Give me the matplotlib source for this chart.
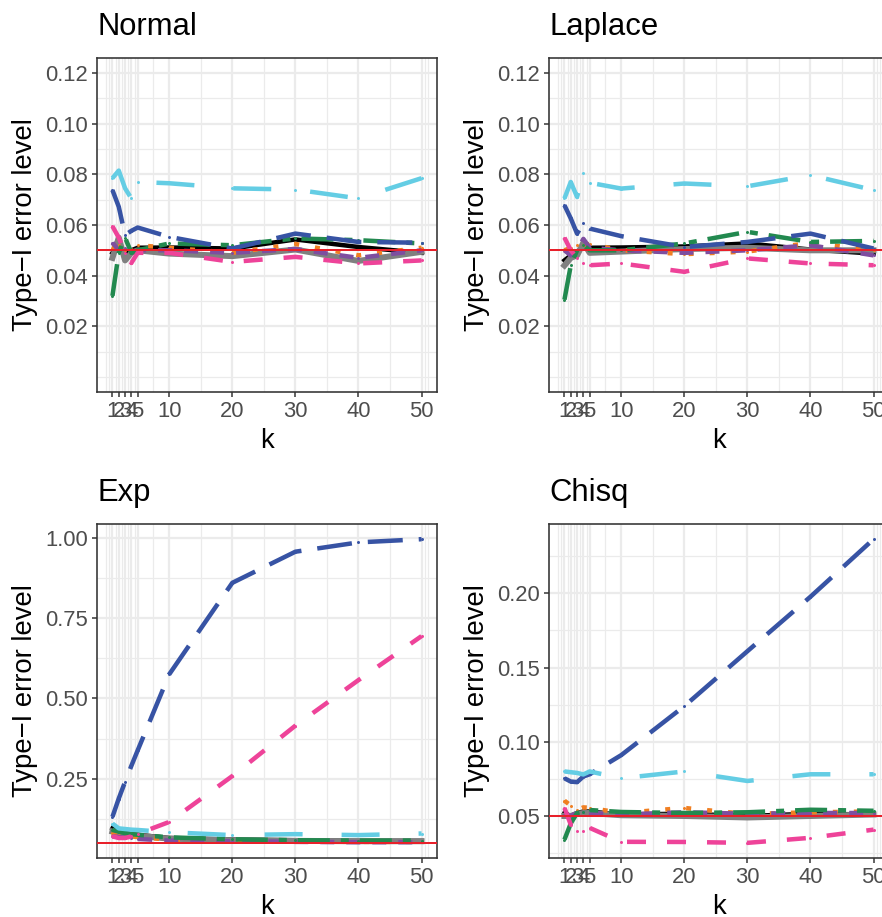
import numpy as np
import matplotlib
matplotlib.use("Agg")
import matplotlib.pyplot as plt

plt.rcParams['font.family'] = ['Liberation Sans', 'DejaVu Sans']
plt.rcParams['lines.scale_dashes'] = False

k = [1, 2, 3, 4, 5, 10, 20, 30, 40, 50]
k_breaks = [1, 2, 3, 4, 5, 10, 20, 30, 40, 50]

# type-I error levels, one dict per distribution
normal = {
    'black':     [0.049, 0.053, 0.048, 0.050, 0.051, 0.0511, 0.0507, 0.0543, 0.0513, 0.049],
    'gray':      [0.047, 0.055, 0.046, 0.049, 0.050, 0.0487, 0.0477, 0.0503, 0.0458, 0.0494],
    'orange':    [0.051, 0.052, 0.050, 0.049, 0.052, 0.051, 0.049, 0.0525, 0.048, 0.051],
    'purple':    [0.053, 0.050, 0.051, 0.049, 0.050, 0.050, 0.049, 0.0505, 0.047, 0.050],
    'green':     [0.032, 0.049, 0.055, 0.049, 0.050, 0.0527, 0.052, 0.0547, 0.054, 0.0527],
    'pink':      [0.0595, 0.055, 0.049, 0.045, 0.049, 0.049, 0.0454, 0.0474, 0.0448, 0.046],
    'darkblue':  [0.0738, 0.0672, 0.056, 0.0577, 0.059, 0.0553, 0.0507, 0.0566, 0.0533, 0.053],
    'lightblue': [0.0785, 0.0815, 0.0745, 0.0705, 0.077, 0.0765, 0.0745, 0.074, 0.0705, 0.0785],
}
laplace = {
    'black':     [0.046, 0.048, 0.049, 0.052, 0.051, 0.0511, 0.0515, 0.0527, 0.0503, 0.0487],
    'gray':      [0.044, 0.047, 0.048, 0.053, 0.049, 0.0495, 0.0505, 0.051, 0.050, 0.050],
    'orange':    [0.050, 0.051, 0.052, 0.052, 0.0525, 0.050, 0.0485, 0.0495, 0.053, 0.050],
    'purple':    [0.050, 0.048, 0.050, 0.0545, 0.051, 0.050, 0.049, 0.050, 0.052, 0.048],
    'green':     [0.0305, 0.044, 0.050, 0.052, 0.050, 0.050, 0.0527, 0.0573, 0.0533, 0.0537],
    'pink':      [0.055, 0.050, 0.047, 0.045, 0.0441, 0.0448, 0.0415, 0.0468, 0.0448, 0.0441],
    'darkblue':  [0.0678, 0.0626, 0.0566, 0.0606, 0.0586, 0.0556, 0.0513, 0.0533, 0.0566, 0.0507],
    'lightblue': [0.0705, 0.077, 0.0711, 0.0804, 0.0767, 0.0744, 0.0764, 0.0753, 0.0797, 0.0738],
}
expo = {
    'black':     [0.095, 0.085, 0.080, 0.077, 0.075, 0.065, 0.060, 0.058, 0.056, 0.056],
    'gray':      [0.085, 0.080, 0.077, 0.074, 0.072, 0.063, 0.058, 0.056, 0.055, 0.055],
    'orange':    [0.080, 0.075, 0.072, 0.070, 0.068, 0.060, 0.056, 0.054, 0.053, 0.053],
    'purple':    [0.070, 0.068, 0.066, 0.064, 0.062, 0.057, 0.055, 0.053, 0.052, 0.052],
    'green':     [0.090, 0.085, 0.080, 0.077, 0.075, 0.067, 0.061, 0.058, 0.057, 0.057],
    'pink':      [0.070, 0.065, 0.065, 0.070, 0.078, 0.115, 0.258, 0.415, 0.557, 0.694],
    'darkblue':  [0.131, 0.188, 0.240, 0.290, 0.338, 0.575, 0.860, 0.957, 0.986, 0.996],
    'lightblue': [0.110, 0.095, 0.093, 0.091, 0.090, 0.083, 0.074, 0.077, 0.074, 0.079],
}
chisq = {
    'black':     [0.052, 0.050, 0.052, 0.053, 0.053, 0.051, 0.0515, 0.050, 0.0515, 0.051],
    'gray':      [0.050, 0.050, 0.0515, 0.052, 0.052, 0.0505, 0.050, 0.049, 0.050, 0.051],
    'orange':    [0.0603, 0.057, 0.054, 0.0558, 0.0555, 0.052, 0.0554, 0.0513, 0.0525, 0.053],
    'purple':    [0.051, 0.050, 0.052, 0.053, 0.052, 0.051, 0.0525, 0.0515, 0.052, 0.052],
    'green':     [0.0341, 0.045, 0.052, 0.053, 0.054, 0.0527, 0.052, 0.0525, 0.0542, 0.0535],
    'pink':      [0.0554, 0.0442, 0.0402, 0.040, 0.042, 0.0326, 0.0325, 0.0319, 0.0353, 0.0408],
    'darkblue':  [0.0754, 0.0732, 0.0728, 0.0766, 0.0781, 0.091, 0.124, 0.161, 0.1977, 0.2365],
    'lightblue': [0.080, 0.0795, 0.079, 0.078, 0.080, 0.0754, 0.080, 0.0736, 0.0781, 0.0781],
}

titles = ['Normal', 'Laplace', 'Exp', 'Chisq']
y_breaks = [
    [0.02, 0.04, 0.06, 0.08, 0.10, 0.12],
    [0.02, 0.04, 0.06, 0.08, 0.10, 0.12],
    [0.25, 0.50, 0.75, 1.00],
    [0.05, 0.10, 0.15, 0.20],
]
y_labels = [
    ['0.02', '0.04', '0.06', '0.08', '0.10', '0.12'],
    ['0.02', '0.04', '0.06', '0.08', '0.10', '0.12'],
    ['0.25', '0.50', '0.75', '1.00'],
    ['0.05', '0.10', '0.15', '0.20'],
]
y_lims = [(-0.006, 0.126), (-0.006, 0.126), (0.0027, 1.0433), (0.0217, 0.2467)]
alpha = 0.05

px = 72 / 100.0  # points per pixel at dpi 100
lw = 4.5 * px
style = {
    'black':     dict(color='black', lw=lw, ls='-'),
    'gray':      dict(color='#808080', lw=6 * px, ls='-'),
    'orange':    dict(color='#F07F22', lw=lw, ls=(0, (5 * px, 16 * px))),
    'purple':    dict(color='#7E4E9F', lw=lw, ls=(0, (14 * px, 12 * px))),
    'green':     dict(color='#22894F', lw=lw, ls=(0, (32 * px, 11 * px, 8 * px, 11 * px))),
    'pink':      dict(color='#EE4399', lw=lw, ls=(0, (19 * px, 21 * px))),
    'darkblue':  dict(color='#3753A4', lw=lw, ls=(0, (35 * px, 16 * px))),
    'lightblue': dict(color='#64CDE4', lw=lw, ls=(0, (38 * px, 39 * px))),
}


def gg_minor(breaks, lims):
    b = list(breaks)
    bd = b[1] - b[0]
    if lims[0] < b[0]:
        b = [b[0] - bd] + b
    if lims[1] > b[-1]:
        b = b + [b[-1] + bd]
    out = []
    for a, c in zip(b[:-1], b[1:]):
        out += [a, (a + c) / 2]
    out.append(b[-1])
    return [m for m in out if lims[0] <= m <= lims[1]]


W, H = 882, 917
fig = plt.figure(figsize=(W / 100, H / 100), dpi=100)

# panel boxes in pixels: left, top
boxes = [(97, 58), (549, 58), (97, 524), (549, 524)]
pw, ph = 340, 334
xlim = (-1.45, 52.45)

for i, data in enumerate([normal, laplace, expo, chisq]):
    left, top = boxes[i]
    ax = fig.add_axes([left / W, 1 - (top + ph) / H, pw / W, ph / H])
    ax.set_axisbelow(True)
    ax.set_xlim(xlim)
    ax.set_ylim(y_lims[i])

    ax.set_xticks(k_breaks)
    ax.set_xticklabels([str(v) for v in k_breaks])
    ax.set_xticks(gg_minor(k_breaks, xlim), minor=True)
    ax.set_yticks(y_breaks[i])
    ax.set_yticklabels(y_labels[i])
    ax.set_yticks(gg_minor(y_breaks[i], y_lims[i]), minor=True)

    ax.grid(which='major', color='#EBEBEB', lw=2.2 * px)
    ax.grid(which='minor', color='#EBEBEB', lw=1.2 * px)
    ax.tick_params(which='minor', length=0)
    ax.tick_params(which='major', length=5 * px, width=1.5 * px, color='#333333',
                   labelsize=22 * px, labelcolor='#4D4D4D', pad=3)
    for sp in ax.spines.values():
        sp.set_color('#333333')
        sp.set_linewidth(1.6 * px)

    for name, vals in data.items():
        st = style[name]
        ax.plot(k, vals, color=st['color'], lw=st['lw'], ls=st['ls'],
                dash_capstyle='butt', solid_joinstyle='round',
                marker='o', ms=3 * px, mew=0, mfc=st['color'], zorder=3)

    ax.axhline(alpha, color='#E8202A', lw=2 * px, zorder=5)

    fig.text(left / W, 1 - (top - 31) / H, titles[i], fontsize=31 * px,
             ha='left', va='center')
    fig.text((left + pw / 2) / W, 1 - (top + ph + 49) / H, 'k', fontsize=27.5 * px,
             ha='center', va='center')
    fig.text((left - 72) / W, 1 - (top + ph / 2) / H, 'Type\u2212I error level',
             fontsize=27.5 * px, rotation=90, ha='center', va='center')

fig.savefig('out.png', dpi=100)
